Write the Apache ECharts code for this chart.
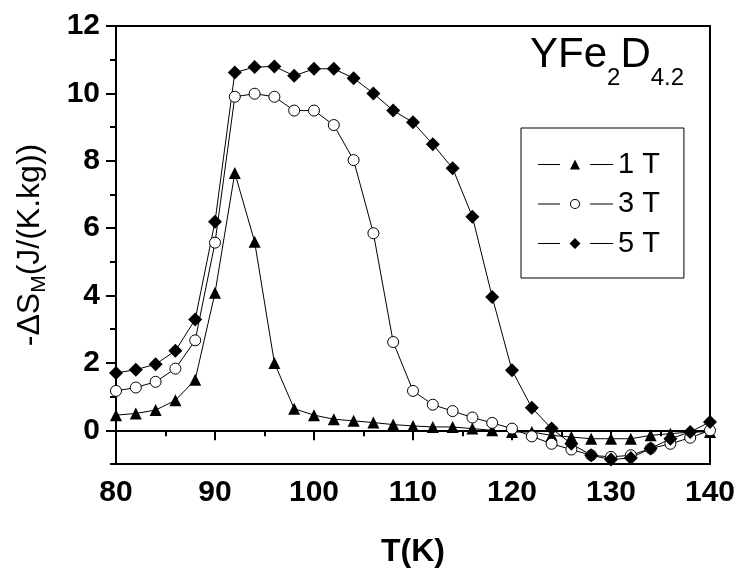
<!DOCTYPE html>
<html>
<head>
<meta charset="utf-8">
<script src="https://cdn.jsdelivr.net/npm/echarts@6/dist/echarts.min.js"></script>
<style>html,body{margin:0;padding:0;background:#fff}#c{width:740px;height:572px}</style>
</head>
<body>
<div id="c"></div>
<script>
const temps = [80,82,84,86,88,90,92,94,96,98,100,102,104,106,108,110,112,114,116,118,120,122,124,126,128,130,132,134,136,138,140];
const oneT = [0.45,0.5,0.6,0.89,1.5,4.08,7.64,5.6,2.0,0.64,0.45,0.33,0.28,0.23,0.17,0.13,0.1,0.1,0.05,0.0,-0.05,-0.05,-0.15,-0.2,-0.25,-0.25,-0.25,-0.15,-0.1,-0.05,-0.05];
const threeT = [1.17,1.27,1.44,1.83,2.67,5.57,9.9,9.99,9.9,9.49,9.49,9.06,8.02,5.85,2.62,1.17,0.76,0.57,0.38,0.22,0.05,-0.18,-0.4,-0.57,-0.74,-0.79,-0.74,-0.54,-0.4,-0.22,0.0];
const fiveT = [1.7,1.8,1.96,2.36,3.29,6.19,10.62,10.78,10.8,10.52,10.73,10.73,10.45,10.0,9.49,9.14,8.49,7.78,6.34,3.96,1.78,0.67,0.05,-0.4,-0.74,-0.87,-0.82,-0.54,-0.25,-0.05,0.25];
const seriesNames = ['1 T','3 T','5 T'];
const yMajor = [0,2,4,6,8,10,12];
const yMinor = [-1,1,3,5,7,9,11];

const pairs = arr => temps.map((t,i)=>[t,arr[i]]);
const FONT = 'Liberation Sans, Arial, sans-serif';
// legend icons: line - marker - line (75 x 12)
const lines = 'M0,5.5 L22,5.5 L22,6.5 L0,6.5 Z M52,5.5 L75,5.5 L75,6.5 L52,6.5 Z ';
const pad = ' M37,0 L37.01,0 L37.01,0.01 Z M37,12 L37.01,12 L37.01,11.99 Z';
const iconTri = 'path://' + lines + 'M37,1 L42,11 L32,11 Z' + pad;
const iconCirc = 'path://' + lines + 'M32,6 A5,5 0 1,0 42,6 A5,5 0 1,0 32,6 Z M33,6 A4,4 0 1,1 41,6 A4,4 0 1,1 33,6 Z' + pad;
const iconDia = 'path://' + lines + 'M37,0.5 L42.5,6 L37,11.5 L31.5,6 Z' + pad;
const legendIcons = [iconTri, iconCirc, iconDia];

const chart = echarts.init(document.getElementById('c'), null, {renderer:'canvas'});
const axisBlack = {lineStyle:{color:'#000',width:2}};
chart.setOption({
  backgroundColor:'#fff',
  animation:false,
  grid:{left:116,right:30,top:26,bottom:108,outerBoundsMode:'none',containLabel:false,show:true,borderColor:'#000',borderWidth:2,backgroundColor:'transparent'},
  legend:{
    left:521, top:128, orient:'vertical',
    data:seriesNames.map((n,i)=>({name:n,icon:legendIcons[i],itemStyle:{color:'#000',borderWidth:0}})),
    borderColor:'#000', borderWidth:1,
    padding:[22,24,20,17],
    itemGap:10.5, itemWidth:75, itemHeight:12,
    textStyle:{fontFamily:FONT,fontSize:29,color:'#000'}
  },
  graphic:[{
    type:'text', left:530, top:34,
    style:{
      text:'{a|YFe}{s|2}{a|D}{s|4.2}',
      fontFamily:FONT,
      rich:{
        a:{fontSize:42,fontFamily:FONT,fill:'#000'},
        s:{fontSize:24,fontFamily:FONT,fill:'#000',padding:[46,0,0,0]}
      }
    }
  }],
  xAxis:{
    type:'value', min:80, max:140, interval:10,
    name:'T(K)', nameLocation:'middle', nameGap:72,
    nameTextStyle:{fontFamily:FONT,fontSize:32,fontWeight:'bold',color:'#000'},
    axisLine:axisBlack,
    axisTick:{inside:false,length:10,lineStyle:{color:'#000',width:2}},
    minorTick:{show:true,splitNumber:2,length:6,lineStyle:{color:'#000',width:2}},
    axisLabel:{fontFamily:FONT,fontSize:30,fontWeight:'bold',color:'#000',margin:14},
    splitLine:{show:false}
  },
  yAxis:[{
    type:'value', min:-1, max:12,
    name:'{n|-ΔS}{s|M}{n|(J/(K.kg))}', nameLocation:'middle', nameGap:66,
    nameTextStyle:{fontFamily:FONT,fontSize:32,color:'#000',
      rich:{n:{fontFamily:FONT,fontSize:32,color:'#000'},s:{fontFamily:FONT,fontSize:21,color:'#000',padding:[18,0,0,0]}}},
    axisLine:axisBlack,
    axisTick:{length:10,lineStyle:{color:'#000',width:2},customValues:yMajor},
    axisLabel:{fontFamily:FONT,fontSize:30,fontWeight:'bold',color:'#000',margin:16,customValues:yMajor},
    splitLine:{show:false}
  },{
    type:'value', min:-1, max:12, position:'left',
    axisLine:{show:false},
    axisTick:{length:6,lineStyle:{color:'#000',width:2},customValues:yMinor},
    axisLabel:{show:false},
    splitLine:{show:false}
  }],
  series:[
    {name:seriesNames[0],type:'line',data:pairs(oneT),symbol:'triangle',symbolSize:12,
     lineStyle:{color:'#000',width:1},itemStyle:{color:'#000'}},
    {name:seriesNames[1],type:'line',data:pairs(threeT),symbol:'circle',symbolSize:11,
     lineStyle:{color:'#000',width:1},itemStyle:{color:'#fff',borderColor:'#000',borderWidth:1}},
    {name:seriesNames[2],type:'line',data:pairs(fiveT),symbol:'diamond',symbolSize:14,
     lineStyle:{color:'#000',width:1},itemStyle:{color:'#000'}}
  ]
});
</script>
</body>
</html>
